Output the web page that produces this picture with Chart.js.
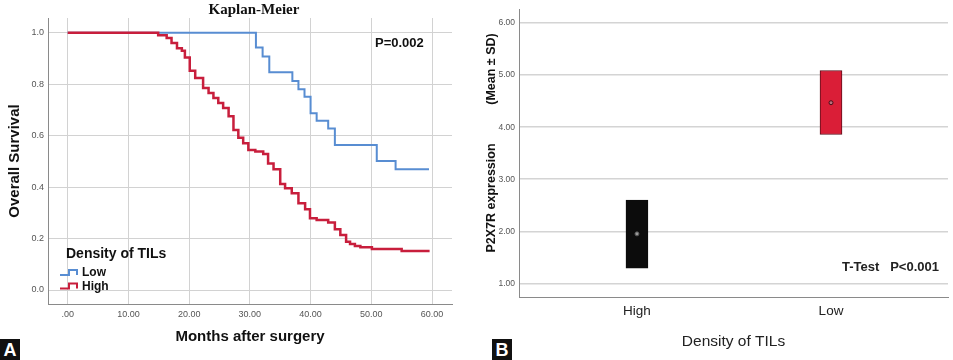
<!DOCTYPE html>
<html>
<head>
<meta charset="utf-8">
<script src="https://cdn.jsdelivr.net/npm/chart.js@4"></script>
<style>
  body { margin: 0; background: #fff; width: 953px; height: 360px; position: relative; overflow: hidden; }
  #panelA { position: absolute; left: 0; top: 0; }
  #panelB { position: absolute; left: 470px; top: 0; }
  .tag { position: absolute; top: 339px; width: 20px; height: 21px; background: #111; color: #fff;
         font: bold 18px "Liberation Sans", Arial, sans-serif; text-align: center; line-height: 22px; }
</style>
</head>
<body>
<canvas id="panelA" width="470" height="360"></canvas>
<canvas id="panelB" width="483" height="360"></canvas>
<div class="tag" style="left:0">A</div>
<div class="tag" style="left:492px">B</div>
<script>
// Kaplan-Meier curves (months, survival after the drop)
const lowTimes = [0, 31.0, 32.1, 33.2, 37.0, 38.0, 39.0, 40.0, 41.0, 42.9, 44.0, 50.9, 54.0, 59.5];
const lowSurv = [1.0, 0.942, 0.907, 0.846, 0.812, 0.780, 0.751, 0.687, 0.658, 0.628, 0.564, 0.501, 0.469, 0.469];
const highTimes = [0, 14.9, 16.3, 17.1, 18.0, 18.8, 19.3, 20.1, 21.0, 22.3, 23.2, 24.0, 24.8, 25.6, 26.5,
  27.3, 28.1, 28.9, 29.75, 30.9, 32.2, 33.0, 33.9, 35.0, 35.8, 36.9, 38.0, 39.1, 39.9, 41.0, 42.9,
  44.0, 44.9, 45.85, 46.5, 47.3, 48.2, 50.1, 55.0, 59.6];
const highSurv = [1.0, 0.99, 0.979, 0.96, 0.94, 0.93, 0.904, 0.852, 0.824, 0.785, 0.766, 0.746, 0.727, 0.707, 0.675,
  0.622, 0.592, 0.570, 0.544, 0.538, 0.529, 0.492, 0.469, 0.412, 0.395, 0.376, 0.337, 0.314, 0.279, 0.272, 0.262,
  0.236, 0.214, 0.188, 0.179, 0.171, 0.166, 0.159, 0.152, 0.152];
const monthTicks = [0, 10, 20, 30, 40, 50, 60];
const survivalTicks = [0, 0.2, 0.4, 0.6, 0.8, 1.0];

// P2X7R expression, mean +/- SD per TIL density group
const groups = ["High", "Low"];
const groupMeans = [1.95, 4.47];
const meanMinusSd = [1.29, 3.86];
const meanPlusSd = [2.60, 5.09];
const expressionTicks = [1, 2, 3, 4, 5, 6];

const blue = "rgb(88, 141, 210)";
const red = "rgb(200, 30, 60)";
const sans = "'Liberation Sans', Arial, sans-serif";

const toPoints = (xs, ys) => xs.map((x, i) => ({ x: x, y: ys[i] }));

const fixedTicks = (values) => (scale) => {
  scale.ticks = values.map((v) => ({ value: v }));
};

// plain text helper for the extra labels
const putText = (ctx, text, x, y, font, color, align, rotate) => {
  ctx.save();
  ctx.font = font;
  ctx.fillStyle = color;
  ctx.textAlign = align || "left";
  ctx.textBaseline = "middle";
  ctx.translate(x, y);
  if (rotate) ctx.rotate(rotate);
  ctx.fillText(text, 0, 0);
  ctx.restore();
};

const kmExtras = {
  id: "kmExtras",
  afterDraw(chart) {
    const ctx = chart.ctx;
    putText(ctx, "Kaplan-Meier", 254, 10, "bold 15px 'Liberation Serif', 'Times New Roman', serif", "#111", "center");
    putText(ctx, "P=0.002", 375, 43, "bold 13px " + sans, "#111");
    // legend inside the plot
    putText(ctx, "Density of TILs", 66, 254, "bold 14px " + sans, "#111");
    const items = [chart.data.datasets[1], chart.data.datasets[0]];
    items.forEach((ds, i) => {
      const y = 273 + i * 13.5;
      ctx.save();
      ctx.strokeStyle = ds.borderColor;
      ctx.lineWidth = 2;
      ctx.beginPath();
      ctx.moveTo(60, y + 2);
      ctx.lineTo(69, y + 2);
      ctx.lineTo(69, y - 3);
      ctx.lineTo(77, y - 3);
      ctx.lineTo(77, y + 2);
      ctx.stroke();
      ctx.restore();
      putText(ctx, ds.label, 82, y, "bold 12px " + sans, "#111");
    });
  },
};

new Chart(document.getElementById("panelA"), {
  type: "line",
  data: {
    datasets: [
      {
        label: "High",
        data: toPoints(highTimes, highSurv),
        borderColor: red,
        borderWidth: 2.5,
        stepped: "before",
        pointRadius: 0,
        fill: false,
      },
      {
        label: "Low",
        data: toPoints(lowTimes, lowSurv),
        borderColor: blue,
        borderWidth: 2,
        stepped: "before",
        pointRadius: 0,
        fill: false,
      },
    ],
  },
  options: {
    responsive: false,
    animation: false,
    layout: { padding: { top: 18, right: 18, left: 0, bottom: 0 } },
    plugins: { legend: { display: false }, tooltip: { enabled: false } },
    scales: {
      x: {
        type: "linear",
        min: -3.244,
        max: 63.29,
        afterBuildTicks: fixedTicks(monthTicks),
        afterFit: (scale) => { scale.height = 56; },
        grid: { color: "#d2d2d2", drawTicks: false },
        border: { color: "#8a8a8a" },
        ticks: {
          padding: 5,
          color: "#555",
          font: { family: sans, size: 9 },
          callback: (v) => (v === 0 ? ".00" : v.toFixed(2)),
        },
        title: {
          display: true,
          text: "Months after surgery",
          color: "#111",
          font: { family: sans, size: 15, weight: "bold" },
          padding: { top: 0, bottom: 14 },
        },
      },
      y: {
        min: -0.0544,
        max: 1.0571,
        afterBuildTicks: fixedTicks(survivalTicks),
        afterFit: (scale) => { scale.width = 48; },
        grid: { color: "#d2d2d2", drawTicks: false },
        border: { color: "#8a8a8a" },
        ticks: {
          padding: 4,
          color: "#555",
          font: { family: sans, size: 9 },
          callback: (v) => v.toFixed(1),
        },
        title: {
          display: true,
          text: "Overall Survival",
          color: "#111",
          font: { family: sans, size: 15, weight: "bold" },
          padding: { top: 6, bottom: 0 },
        },
      },
    },
  },
  plugins: [kmExtras],
});

const barExtras = {
  id: "barExtras",
  afterDraw(chart) {
    const ctx = chart.ctx;
    putText(ctx, "P2X7R expression", 22, 198, "bold 12.5px " + sans, "#111", "center", -Math.PI / 2);
    putText(ctx, "(Mean \u00b1 SD)", 22, 69, "bold 12.5px " + sans, "#111", "center", -Math.PI / 2);
    putText(ctx, "T-Test   P<0.001", 372, 267, "bold 13px " + sans, "#222");
  },
};

new Chart(document.getElementById("panelB"), {
  type: "bar",
  data: {
    datasets: [
      {
        type: "line",
        label: "Mean",
        data: groupMeans.map((m, i) => ({ x: i + 1, y: m })),
        showLine: false,
        pointRadius: 2,
        pointBorderWidth: 1,
        pointBackgroundColor: ["#9a9a9a", "#b8707c"],
        pointBorderColor: ["#555", "#4a0d18"],
        order: 0,
      },
      {
        label: "Mean \u00b1 SD",
        data: groups.map((g, i) => ({ x: i + 1, y: [meanMinusSd[i], meanPlusSd[i]] })),
        backgroundColor: ["#0c0c0c", "rgb(218, 30, 55)"],
        borderColor: ["#0c0c0c", "#5a0e1a"],
        borderWidth: 1,
        borderSkipped: false,
        barThickness: 22,
        order: 1,
      },
    ],
  },
  options: {
    responsive: false,
    animation: false,
    layout: { padding: { top: 3, right: 5, left: 0, bottom: 0 } },
    plugins: { legend: { display: false }, tooltip: { enabled: false } },
    scales: {
      x: {
        type: "linear",
        offset: false,
        min: 0.392,
        max: 2.603,
        afterBuildTicks: fixedTicks([1, 2]),
        afterFit: (scale) => { scale.height = 63; },
        grid: { display: false, drawTicks: false },
        border: { color: "#8a8a8a" },
        ticks: {
          padding: 6,
          color: "#222",
          font: { family: sans, size: 13.5 },
          callback: (v) => groups[v - 1],
        },
        title: {
          display: true,
          text: "Density of TILs",
          color: "#222",
          font: { family: sans, size: 15.5 },
          padding: { top: 0, bottom: 9 },
        },
      },
      y: {
        min: 0.737,
        max: 6.269,
        afterBuildTicks: fixedTicks(expressionTicks),
        afterFit: (scale) => { scale.width = 49; },
        grid: { color: "#d4d4d4", lineWidth: 1.5, drawTicks: false },
        border: { color: "#8a8a8a" },
        ticks: {
          padding: 4,
          color: "#555",
          font: { family: sans, size: 8.5 },
          callback: (v) => v.toFixed(2),
        },
      },
    },
  },
  plugins: [barExtras],
});
</script>
</body>
</html>
